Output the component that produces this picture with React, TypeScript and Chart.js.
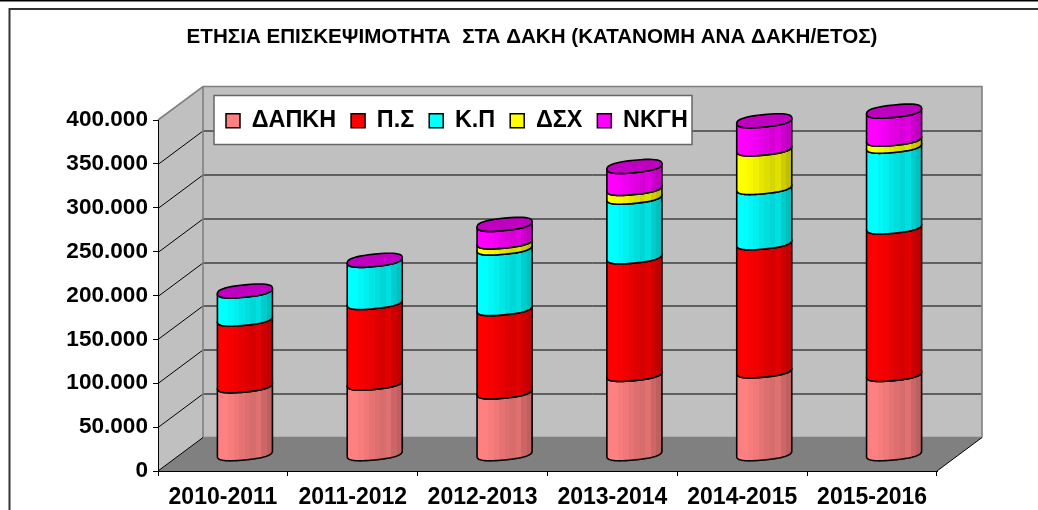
import React, { useEffect, useRef } from "react";
import { Chart, registerables } from "chart.js";

Chart.register(...registerables);

const TITLE = "ΕΤΗΣΙΑ ΕΠΙΣΚΕΨΙΜΟΤΗΤΑ  ΣΤΑ ΔΑΚΗ (ΚΑΤΑΝΟΜΗ ΑΝΑ ΔΑΚΗ/ΕΤΟΣ)";
const categories = ["2010-2011", "2011-2012", "2012-2013", "2013-2014", "2014-2015", "2015-2016"];
const dapki = [78000, 81000, 71000, 91000, 95000, 91000];
const ps = [76000, 92000, 95000, 134000, 146000, 168000];
const kp = [32000, 48000, 69000, 68000, 63000, 92000];
const dsx = [0, 0, 7000, 10000, 44000, 8000];
const nkgi = [0, 0, 20000, 25000, 32000, 32000];

const FONT = "'Liberation Sans', Arial, sans-serif";
const DEPTH_X = 45;
const DEPTH_Y = 33.5;
const CAP_COLOR = "#C000C0";
const BANDS = [1, 1, 0.97, 0.94, 0.9, 0.87, 0.84, 0.88, 0.8, 0.75];

const shade = (hex: string, f: number) => {
  const n = parseInt(hex.slice(1), 16);
  const c = [(n >> 16) & 255, (n >> 8) & 255, n & 255].map((v) => Math.round(v * f));
  return `rgb(${c[0]},${c[1]},${c[2]})`;
};
const spow = (v: number, p: number) => Math.sign(v) * Math.pow(Math.abs(v), p);

const rimPoint = (cx: number, cy: number, a: number, t: number) => {
  const p = 0.8;
  const c = spow(Math.cos(t), p);
  const s = spow(Math.sin(t), p);
  return [cx + a * c, cy + 6.2 * s - 2.7 * c];
};

const tracePoints = (ctx: any, cx: number, cy: number, a: number, from: number, to: number, first: boolean) => {
  const steps = 40;
  for (let i = 0; i <= steps; i++) {
    const t = from + ((to - from) * i) / steps;
    const [x, y] = rimPoint(cx, cy, a, t);
    if (first && i === 0) ctx.moveTo(x, y);
    else ctx.lineTo(x, y);
  }
};

const scene3d = {
  id: "scene3d",
  beforeDraw(chart: any) {
    const { ctx, chartArea: ca, scales } = chart;
    const y = scales.y;
    const L = ca.left, R = ca.right, T = ca.top, B = ca.bottom;
    ctx.save();
    // outer frame
    ctx.strokeStyle = "#000";
    ctx.lineWidth = 2;
    ctx.beginPath();
    ctx.moveTo(0, 0.5);
    ctx.lineTo(1038, 0.5);
    ctx.stroke();
    ctx.strokeStyle = "#333";
    ctx.beginPath();
    ctx.moveTo(1038, 9);
    ctx.lineTo(9.5, 9);
    ctx.lineTo(9.5, 510);
    ctx.stroke();
    // walls
    ctx.fillStyle = "#C0C0C0";
    ctx.fillRect(L + DEPTH_X, T - DEPTH_Y, R - L, B - T);
    ctx.beginPath();
    ctx.moveTo(L, B);
    ctx.lineTo(L + DEPTH_X, B - DEPTH_Y);
    ctx.lineTo(L + DEPTH_X, T - DEPTH_Y);
    ctx.lineTo(L, T);
    ctx.closePath();
    ctx.fill();
    // gridlines
    ctx.strokeStyle = "#000";
    ctx.lineWidth = 1;
    y.ticks.forEach((t: any) => {
      if (t.value === 0 || t.value === y.max) return;
      const py = Math.round(y.getPixelForValue(t.value)) + 0.5;
      ctx.beginPath();
      ctx.moveTo(L, py);
      ctx.lineTo(L + DEPTH_X, py - DEPTH_Y);
      ctx.lineTo(R + DEPTH_X, py - DEPTH_Y);
      ctx.stroke();
    });
    // floor
    ctx.fillStyle = "#808080";
    ctx.beginPath();
    ctx.moveTo(L, B);
    ctx.lineTo(L + DEPTH_X, B - DEPTH_Y);
    ctx.lineTo(R + DEPTH_X, B - DEPTH_Y);
    ctx.lineTo(R, B);
    ctx.closePath();
    ctx.fill();
    // wall edges
    ctx.strokeStyle = "#808080";
    ctx.lineWidth = 1.6;
    ctx.beginPath();
    ctx.moveTo(L, T);
    ctx.lineTo(L + DEPTH_X, T - DEPTH_Y);
    ctx.lineTo(R + DEPTH_X, T - DEPTH_Y);
    ctx.lineTo(R + DEPTH_X, B - DEPTH_Y);
    ctx.moveTo(L + DEPTH_X, T - DEPTH_Y);
    ctx.lineTo(L + DEPTH_X, B - DEPTH_Y);
    ctx.lineTo(R + DEPTH_X, B - DEPTH_Y);
    ctx.stroke();
    ctx.strokeStyle = "#000";
    ctx.lineWidth = 1;
    ctx.beginPath();
    ctx.moveTo(L, B);
    ctx.lineTo(L + DEPTH_X, B - DEPTH_Y);
    ctx.moveTo(R, B);
    ctx.lineTo(R + DEPTH_X, B - DEPTH_Y);
    ctx.stroke();
    // legend panel
    ctx.fillStyle = "#fff";
    ctx.fillRect(214, 95.5, 478, 49);
    ctx.strokeStyle = "#666";
    ctx.lineWidth = 1.5;
    ctx.strokeRect(214, 95.5, 478, 49);
    ctx.restore();
  },
  afterLayout(chart: any) {
    const title = chart.titleBlock;
    if (title) {
      title.left = 26;
      title.right = 1038;
      title.top = 25;
    }
    const lg = chart.legend;
    if (lg) {
      const pad = lg.options.labels.padding;
      lg.left = 226 - pad;
      lg.right = 780;
      lg.top = 120 - pad - 11;
      lg.bottom = lg.top + 80;
    }
  },
  beforeDatasetsDraw(chart: any) {
    const { ctx } = chart;
    const n = chart.data.labels.length;
    ctx.save();
    ctx.strokeStyle = "#000";
    ctx.lineWidth = 1.6;
    ctx.lineJoin = "round";
    for (let i = 0; i < n; i++) {
      let topY = 0, cx = 0, a = 0;
      chart.data.datasets.forEach((ds: any, di: number) => {
        const el = chart.getDatasetMeta(di).data[i];
        cx = el.x + DEPTH_X / 2 - 0.5;
        a = el.width / 2;
        const yTop = el.y - DEPTH_Y / 2;
        const yBase = el.base - DEPTH_Y / 2;
        if (ds.data[i] > 0) {
          topY = yTop;
          const g = ctx.createLinearGradient(cx - a, 0, cx + a, 0);
          BANDS.forEach((f, b) => {
            g.addColorStop(b / BANDS.length, shade(ds.backgroundColor, f));
            g.addColorStop((b + 1) / BANDS.length, shade(ds.backgroundColor, f));
          });
          ctx.fillStyle = g;
          ctx.beginPath();
          tracePoints(ctx, cx, yBase, a, Math.PI, 0, true);
          tracePoints(ctx, cx, yTop, a, 0, Math.PI, false);
          ctx.closePath();
          ctx.fill();
          ctx.stroke();
        }
      });
      ctx.fillStyle = CAP_COLOR;
      ctx.beginPath();
      tracePoints(ctx, cx, topY, a, 0, Math.PI * 2, true);
      ctx.closePath();
      ctx.fill();
      ctx.stroke();
    }
    ctx.restore();
    return false;
  },
};

const makeDataset = (label: string, data: number[], color: string) => ({
  label,
  data,
  backgroundColor: color,
  borderColor: "#000",
  borderWidth: 1.5,
  categoryPercentage: 1,
  barPercentage: 0.424,
});

export default function App() {
  const ref = useRef<HTMLCanvasElement>(null);
  useEffect(() => {
    document.body.style.margin = "0";
    const padding = { left: 0, right: 101, top: 0, bottom: 0 };
    const chart = new Chart(ref.current as any, {
      type: "bar",
      data: {
        labels: categories,
        datasets: [
          makeDataset("ΔΑΠΚΗ", dapki, "#FF8080"),
          makeDataset("Π.Σ", ps, "#FF0000"),
          makeDataset("Κ.Π", kp, "#00FFFF"),
          makeDataset("ΔΣΧ", dsx, "#FFFF00"),
          makeDataset("ΝΚΓΗ", nkgi, "#FF00FF"),
        ],
      },
      options: {
        responsive: false,
        animation: false,
        events: [],
        layout: { padding },
        plugins: {
          tooltip: { enabled: false },
          title: {
            display: true,
            text: TITLE,
            color: "#000",
            padding: 0,
            font: { family: FONT, size: 20.6, weight: "bold" },
          },
          legend: {
            display: true,
            position: "top",
            align: "start",
            labels: {
              color: "#000",
              boxWidth: 14,
              boxHeight: 14,
              padding: 15,
              font: { family: FONT, size: 23.4, weight: "bold" },
            },
          },
        },
        scales: {
          x: {
            stacked: true,
            grid: { drawOnChartArea: false, drawTicks: true, tickLength: 5, color: "#000" },
            border: { color: "#000", width: 1 },
            ticks: {
              color: "#000",
              padding: 8,
              maxRotation: 0,
              autoSkip: false,
              font: { family: FONT, size: 23, weight: "bold" },
            },
            afterFit(s: any) {
              s.height = 39;
            },
          },
          y: {
            stacked: true,
            min: 0,
            max: 400000,
            grid: { drawOnChartArea: false, drawTicks: true, tickLength: 5, color: "#000" },
            border: { color: "#000", width: 1 },
            ticks: {
              stepSize: 50000,
              color: "#000",
              padding: 5,
              font: { family: FONT, size: 22.6, weight: "bold" },
              callback: (v: any) => String(v).replace(/\B(?=(\d{3})+$)/g, "."),
            },
            afterFit(s: any) {
              s.width = 158;
            },
          },
        },
      } as any,
      plugins: [scene3d as any],
    });
    padding.top += 120 - chart.chartArea.top;
    chart.update();
    return () => chart.destroy();
  }, []);
  return <canvas ref={ref} width={1038} height={510} style={{ display: "block" }} />;
}
